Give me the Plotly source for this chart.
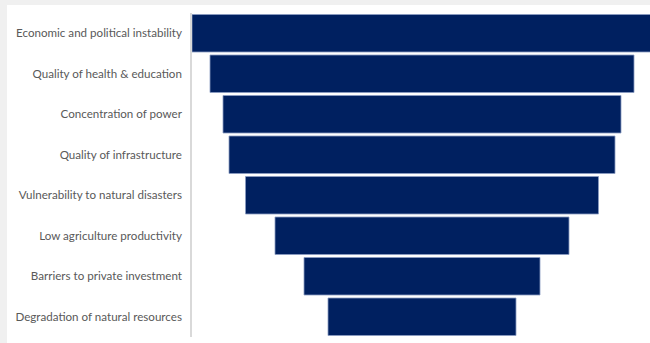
import plotly.graph_objects as go

# --- data ---
barriers = [
    'Economic and political instability',
    'Quality of health & education',
    'Concentration of power',
    'Quality of infrastructure',
    'Vulnerability to natural disasters',
    'Low agriculture productivity',
    'Barriers to private investment',
    'Degradation of natural resources',
]
scores = [46.0, 42.4, 39.8, 38.6, 35.3, 29.4, 23.6, 18.8]

W, H = 650, 343
ML, MR, MT, MB = 192, 0, 13, 6

fig = go.Figure()

fig.add_trace(go.Funnel(
    y=barriers,
    x=scores,
    textinfo='none',
    hoverinfo='y+x',
    marker=dict(color='#002060', line=dict(color='#8a9cc2', width=0.8)),
    connector=dict(visible=False),
))

# white panel on light grey page
pw = W - ML - MR
ph = H - MT - MB
fig.add_shape(type='rect', xref='paper', yref='paper', layer='below',
              x0=(7 - ML) / pw, x1=1.05,
              y0=-0.05, y1=(H - MB - 5) / ph,
              fillcolor='white', line=dict(width=0))

fig.update_layout(
    width=W, height=H,
    margin=dict(l=ML, r=MR, t=MT, b=MB),
    paper_bgcolor='#f0f0f0',
    plot_bgcolor='white',
    funnelgap=0.074,
    showlegend=False,
    font=dict(family='Lato', size=11.6, color='#595959'),
    xaxis=dict(visible=False, range=[-23.0, 22.8]),
    yaxis=dict(
        showline=True, linecolor='#d9d9d9', linewidth=1.5,
        ticks='outside', ticklen=6, tickcolor='rgba(0,0,0,0)',
        tickfont=dict(family='Lato', size=11.6, color='#595959'),
        showgrid=False,
    ),
)

# drop the browser's default body margin so the figure sits at 0,0
fig.write_html('out.html', config={'displayModeBar': False},
               post_script="document.body.style.margin='0';")
